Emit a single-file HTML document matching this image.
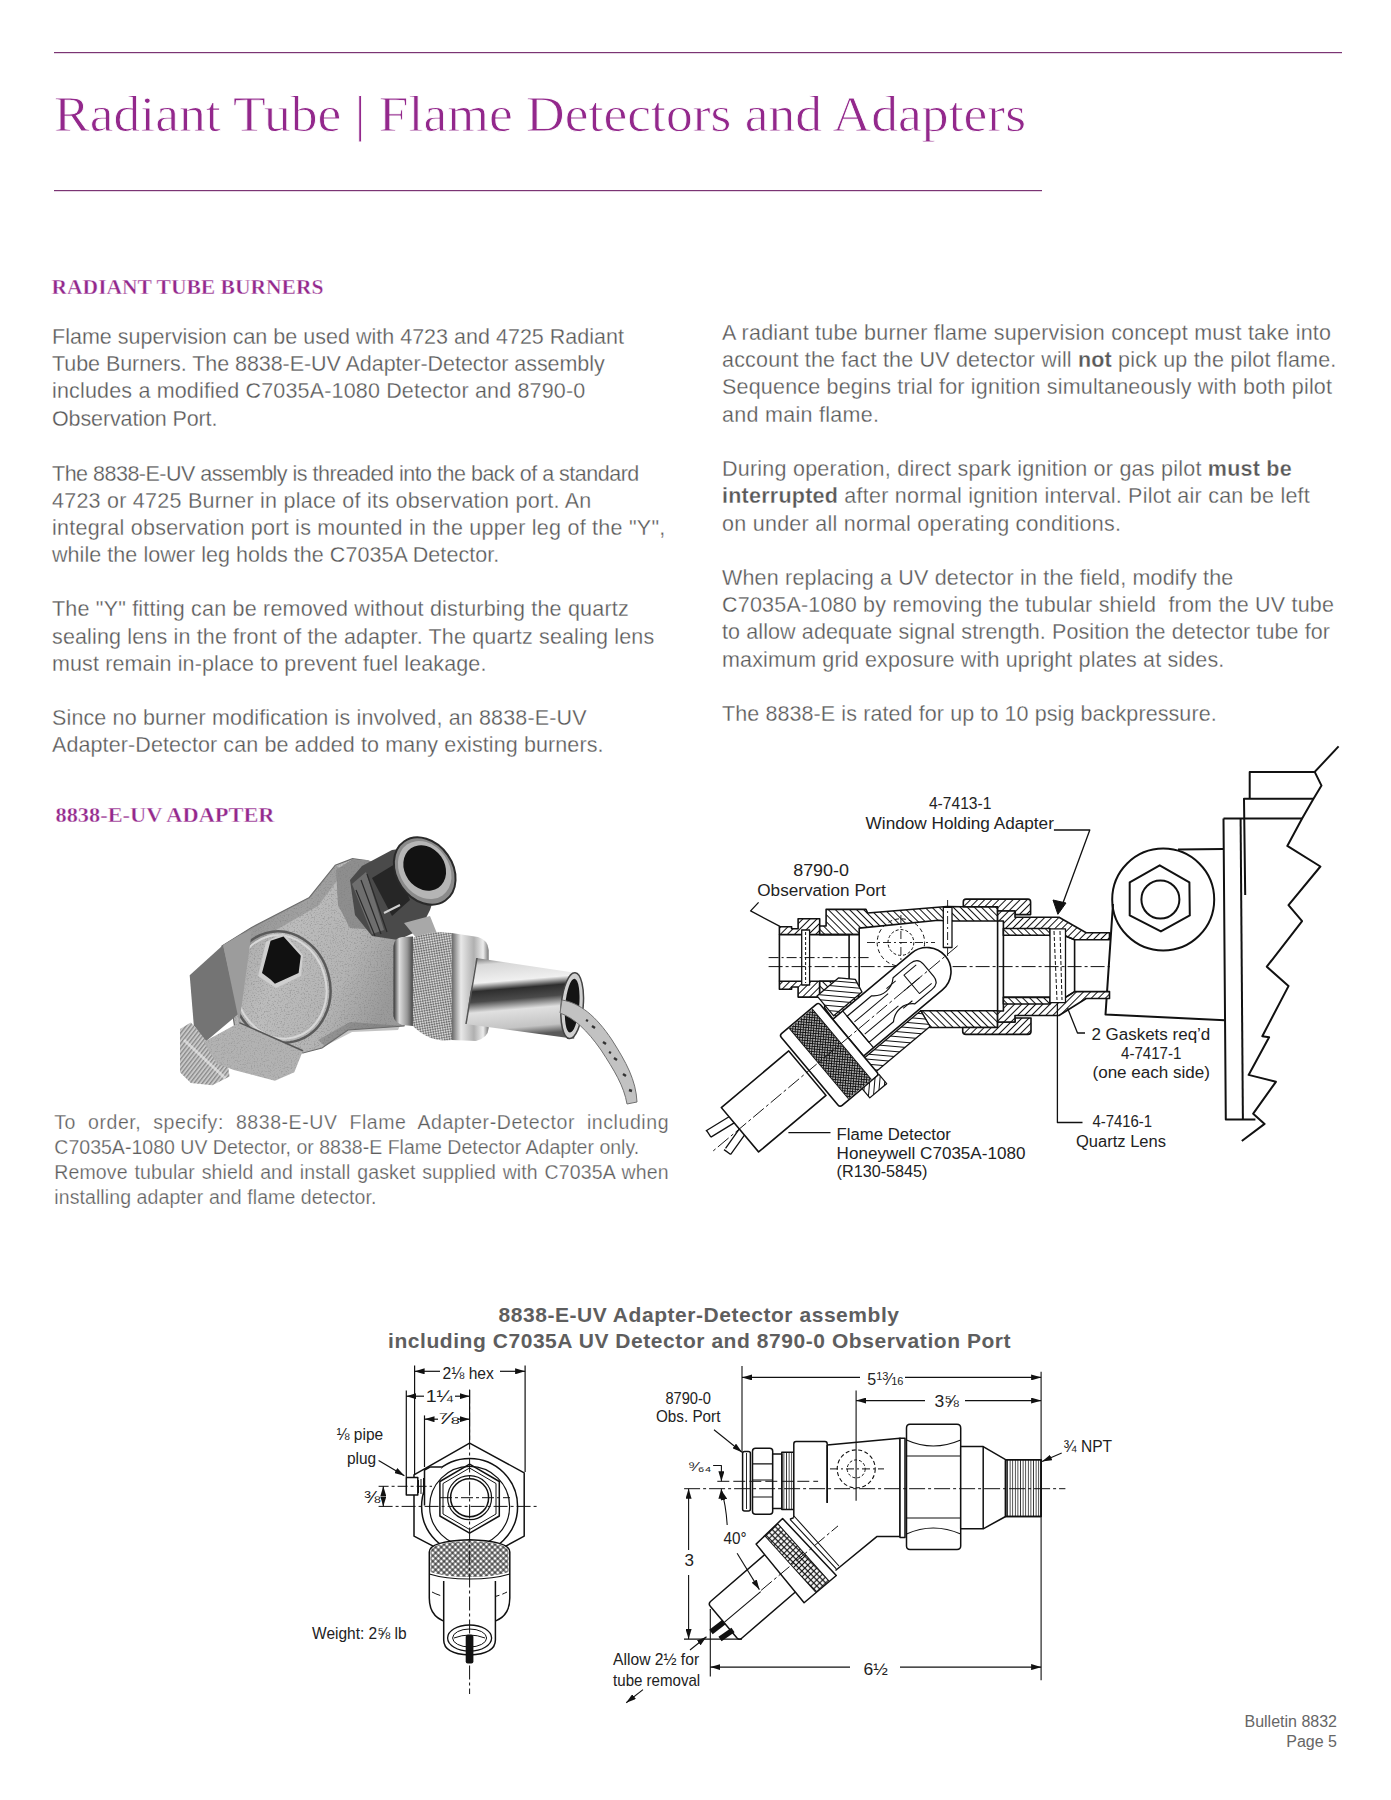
<!DOCTYPE html>
<html><head><meta charset="utf-8"><title>Radiant Tube | Flame Detectors and Adapters</title>
<style>html,body{margin:0;padding:0;background:#fff;} svg{display:block;}</style></head>
<body><svg width="1391" height="1800" viewBox="0 0 1391 1800">
<rect width="1391" height="1800" fill="#fff"/>
<rect x="54" y="52" width="1288" height="1.2" fill="#7b3473"/>
<rect x="54" y="190" width="988" height="1.2" fill="#7b3473"/>
<text x="54" y="131" font-family="Liberation Serif, serif" font-size="51" fill="#93288c" stroke="#fff" stroke-width="0.8" textLength="972" lengthAdjust="spacingAndGlyphs">Radiant Tube | Flame Detectors and Adapters</text>
<text x="51.5" y="293.7" font-size="21" textLength="272.0" lengthAdjust="spacingAndGlyphs" font-family="Liberation Serif, serif" font-weight="bold" fill="#93288c" stroke="#fff" stroke-width="0.35">RADIANT TUBE BURNERS</text>
<text x="55.5" y="821.6" font-size="21.5" textLength="219.0" lengthAdjust="spacingAndGlyphs" font-family="Liberation Serif, serif" font-weight="bold" fill="#93288c" stroke="#fff" stroke-width="0.35">8838-E-UV ADAPTER</text>
<text x="52" y="344" font-size="21.5" textLength="572.0" lengthAdjust="spacing" fill="#585858" stroke="#fff" stroke-width="0.28" font-family="Liberation Sans, sans-serif">Flame supervision can be used with 4723 and 4725 Radiant</text>
<text x="52" y="371.2" font-size="21.5" textLength="552.7" lengthAdjust="spacing" fill="#585858" stroke="#fff" stroke-width="0.28" font-family="Liberation Sans, sans-serif">Tube Burners. The 8838-E-UV Adapter-Detector assembly</text>
<text x="52" y="398.4" font-size="21.5" textLength="533.3" lengthAdjust="spacing" fill="#585858" stroke="#fff" stroke-width="0.28" font-family="Liberation Sans, sans-serif">includes a modified C7035A-1080 Detector and 8790-0</text>
<text x="52" y="425.6" font-size="21.5" textLength="165.4" lengthAdjust="spacing" fill="#585858" stroke="#fff" stroke-width="0.28" font-family="Liberation Sans, sans-serif">Observation Port.</text>
<text x="52" y="480.6" font-size="21.5" textLength="587.3" lengthAdjust="spacing" fill="#585858" stroke="#fff" stroke-width="0.28" font-family="Liberation Sans, sans-serif">The 8838-E-UV assembly is threaded into the back of a standard</text>
<text x="52" y="507.8" font-size="21.5" textLength="539.3" lengthAdjust="spacing" fill="#585858" stroke="#fff" stroke-width="0.28" font-family="Liberation Sans, sans-serif">4723 or 4725 Burner in place of its observation port. An</text>
<text x="52" y="535.3" font-size="21.5" textLength="613.3" lengthAdjust="spacing" fill="#585858" stroke="#fff" stroke-width="0.28" font-family="Liberation Sans, sans-serif">integral observation port is mounted in the upper leg of the "Y",</text>
<text x="52" y="562.4" font-size="21.5" textLength="447.3" lengthAdjust="spacing" fill="#585858" stroke="#fff" stroke-width="0.28" font-family="Liberation Sans, sans-serif">while the lower leg holds the C7035A Detector.</text>
<text x="52" y="616.2" font-size="21.5" textLength="576.7" lengthAdjust="spacing" fill="#585858" stroke="#fff" stroke-width="0.28" font-family="Liberation Sans, sans-serif">The "Y" fitting can be removed without disturbing the quartz</text>
<text x="52" y="643.8" font-size="21.5" textLength="602.2" lengthAdjust="spacing" fill="#585858" stroke="#fff" stroke-width="0.28" font-family="Liberation Sans, sans-serif">sealing lens in the front of the adapter. The quartz sealing lens</text>
<text x="52" y="671.3" font-size="21.5" textLength="434.4" lengthAdjust="spacing" fill="#585858" stroke="#fff" stroke-width="0.28" font-family="Liberation Sans, sans-serif">must remain in-place to prevent fuel leakage.</text>
<text x="52" y="724.7" font-size="21.5" textLength="534.5" lengthAdjust="spacing" fill="#585858" stroke="#fff" stroke-width="0.28" font-family="Liberation Sans, sans-serif">Since no burner modification is involved, an 8838-E-UV</text>
<text x="52" y="752.2" font-size="21.5" textLength="551.5" lengthAdjust="spacing" fill="#585858" stroke="#fff" stroke-width="0.28" font-family="Liberation Sans, sans-serif">Adapter-Detector can be added to many existing burners.</text>
<text x="722" y="339.9" font-size="21.5" textLength="609.0" lengthAdjust="spacing" fill="#585858" stroke="#fff" stroke-width="0.28" font-family="Liberation Sans, sans-serif" xml:space="preserve">A radiant tube burner flame supervision concept must take into</text>
<text x="722" y="367.2" font-size="21.5" textLength="614.3" lengthAdjust="spacing" fill="#585858" stroke="#fff" stroke-width="0.28" font-family="Liberation Sans, sans-serif" xml:space="preserve">account the fact the UV detector will <tspan font-weight="bold">not</tspan> pick up the pilot flame.</text>
<text x="722" y="394.3" font-size="21.5" textLength="610.0" lengthAdjust="spacing" fill="#585858" stroke="#fff" stroke-width="0.28" font-family="Liberation Sans, sans-serif" xml:space="preserve">Sequence begins trial for ignition simultaneously with both pilot</text>
<text x="722" y="421.5" font-size="21.5" textLength="157.0" lengthAdjust="spacing" fill="#585858" stroke="#fff" stroke-width="0.28" font-family="Liberation Sans, sans-serif" xml:space="preserve">and main flame.</text>
<text x="722" y="476.1" font-size="21.5" textLength="569.7" lengthAdjust="spacing" fill="#585858" stroke="#fff" stroke-width="0.28" font-family="Liberation Sans, sans-serif" xml:space="preserve">During operation, direct spark ignition or gas pilot <tspan font-weight="bold">must be</tspan></text>
<text x="722" y="502.9" font-size="21.5" textLength="587.8" lengthAdjust="spacing" fill="#585858" stroke="#fff" stroke-width="0.28" font-family="Liberation Sans, sans-serif" xml:space="preserve"><tspan font-weight="bold">interrupted</tspan> after normal ignition interval. Pilot air can be left</text>
<text x="722" y="530.5" font-size="21.5" textLength="399.0" lengthAdjust="spacing" fill="#585858" stroke="#fff" stroke-width="0.28" font-family="Liberation Sans, sans-serif" xml:space="preserve">on under all normal operating conditions.</text>
<text x="722" y="585.3" font-size="21.5" textLength="511.3" lengthAdjust="spacing" fill="#585858" stroke="#fff" stroke-width="0.28" font-family="Liberation Sans, sans-serif" xml:space="preserve">When replacing a UV detector in the field, modify the</text>
<text x="722" y="611.9" font-size="21.5" textLength="612.0" lengthAdjust="spacing" fill="#585858" stroke="#fff" stroke-width="0.28" font-family="Liberation Sans, sans-serif" xml:space="preserve">C7035A-1080 by removing the tubular shield  from the UV tube</text>
<text x="722" y="639.2" font-size="21.5" textLength="608.0" lengthAdjust="spacing" fill="#585858" stroke="#fff" stroke-width="0.28" font-family="Liberation Sans, sans-serif" xml:space="preserve">to allow adequate signal strength. Position the detector tube for</text>
<text x="722" y="666.8" font-size="21.5" textLength="502.3" lengthAdjust="spacing" fill="#585858" stroke="#fff" stroke-width="0.28" font-family="Liberation Sans, sans-serif" xml:space="preserve">maximum grid exposure with upright plates at sides.</text>
<text x="722" y="720.7" font-size="21.5" textLength="494.7" lengthAdjust="spacing" fill="#585858" stroke="#fff" stroke-width="0.28" font-family="Liberation Sans, sans-serif" xml:space="preserve">The 8838-E is rated for up to 10 psig backpressure.</text>
<text x="54.3" y="1128.7" font-size="19.5" textLength="614.2" lengthAdjust="spacing" fill="#5e5e5e" stroke="#fff" stroke-width="0.25" font-family="Liberation Sans, sans-serif" word-spacing="6.0">To order, specify: 8838-E-UV Flame Adapter-Detector including</text>
<text x="54.3" y="1153.9" font-size="19.5" textLength="584.9" lengthAdjust="spacing" fill="#5e5e5e" stroke="#fff" stroke-width="0.25" font-family="Liberation Sans, sans-serif">C7035A-1080 UV Detector, or 8838-E Flame Detector Adapter only.</text>
<text x="54.3" y="1178.6" font-size="19.5" textLength="614.2" lengthAdjust="spacing" fill="#5e5e5e" stroke="#fff" stroke-width="0.25" font-family="Liberation Sans, sans-serif" word-spacing="1.2">Remove tubular shield and install gasket supplied with C7035A when</text>
<text x="54.3" y="1203.9" font-size="19.5" textLength="322.1" lengthAdjust="spacing" fill="#5e5e5e" stroke="#fff" stroke-width="0.25" font-family="Liberation Sans, sans-serif">installing adapter and flame detector.</text>
<text x="498.5" y="1321.5" font-size="21" textLength="400.5" lengthAdjust="spacing" fill="#5e5e5e" font-family="Liberation Sans, sans-serif" font-weight="bold">8838-E-UV Adapter-Detector assembly</text>
<text x="388" y="1347.5" font-size="21" textLength="622.6" lengthAdjust="spacing" fill="#5e5e5e" font-family="Liberation Sans, sans-serif" font-weight="bold">including C7035A UV Detector and 8790-0 Observation Port</text>
<text x="1337" y="1727" font-size="16" fill="#666" font-family="Liberation Sans, sans-serif" text-anchor="end">Bulletin 8832</text>
<text x="1337" y="1747" font-size="16" fill="#666" font-family="Liberation Sans, sans-serif" text-anchor="end">Page 5</text>
<g id="photo">
<defs>
<linearGradient id="gTube" x1="0" y1="0" x2="0.12" y2="1">
<stop offset="0" stop-color="#6a6a6a"/><stop offset="0.1" stop-color="#d8d8d8"/><stop offset="0.32" stop-color="#f0f0f0"/><stop offset="0.42" stop-color="#2e2e2e"/><stop offset="0.55" stop-color="#4a4a4a"/><stop offset="0.68" stop-color="#e0e0e0"/><stop offset="0.9" stop-color="#c4c4c4"/><stop offset="1" stop-color="#5a5a5a"/></linearGradient>
<linearGradient id="gCap" x1="0" y1="0" x2="1" y2="0">
<stop offset="0" stop-color="#666"/><stop offset="0.25" stop-color="#e8e8e8"/><stop offset="0.6" stop-color="#b0b0b0"/><stop offset="0.85" stop-color="#ececec"/><stop offset="1" stop-color="#777"/></linearGradient>
<linearGradient id="gRing" x1="0" y1="0" x2="1" y2="0">
<stop offset="0" stop-color="#333"/><stop offset="0.3" stop-color="#ddd"/><stop offset="0.7" stop-color="#999"/><stop offset="1" stop-color="#444"/></linearGradient>
<pattern id="pKnurl" width="3.5" height="3.5" patternUnits="userSpaceOnUse" patternTransform="rotate(35)">
<rect width="3.5" height="3.5" fill="#d0d0d0"/><path d="M0 0L3.5 3.5M3.5 0L0 3.5" stroke="#707070" stroke-width="0.8"/></pattern>
<pattern id="pThread" width="3.2" height="3.2" patternUnits="userSpaceOnUse" patternTransform="rotate(-52)">
<rect width="3.2" height="3.2" fill="#c8c8c8"/><rect width="3.2" height="1.3" fill="#8a8a8a"/></pattern>
<filter id="fNoise" x="0" y="0" width="100%" height="100%">
<feTurbulence type="fractalNoise" baseFrequency="0.7" numOctaves="2" seed="5"/>
<feColorMatrix type="matrix" values="0 0 0 0 0.2  0 0 0 0 0.2  0 0 0 0 0.2  3 0 0 0 -1.5"/>
<feComposite in2="SourceGraphic" operator="in"/>
</filter>
<linearGradient id="gBody" x1="0" y1="0" x2="1" y2="0.4">
<stop offset="0" stop-color="#9c9c9c"/><stop offset="0.45" stop-color="#bcbcbc"/><stop offset="0.75" stop-color="#b4b4b4"/><stop offset="1" stop-color="#9a9a9a"/></linearGradient>
</defs>
<!-- thread nipple -->
<path d="M180 1029 L190.8 1022.6 L227.4 1061.4 L229.6 1076.5 L212.3 1085.2 L190.8 1083 L180 1072.2 Z" fill="url(#pThread)"/>
<path d="M184 1040 L225 1078" stroke="#eee" stroke-width="3" opacity="0.6"/>
<!-- cast body -->
<path d="M222 946 L251.2 927.7 L309.4 897.5 L335.3 865.2 L352.5 858.7 L367.6 860.9 L380 880 L396 936 L412 1000 L404 1026 L348 1030 L322 1048 L303 1053 L280 1050 L236 1035 Z" fill="url(#gBody)" stroke="#6a6a6a" stroke-width="1.2"/>
<path d="M222 946 L251.2 927.7 L309.4 897.5 L335.3 865.2 L352.5 858.7 L367.6 860.9 L380 880 L396 936 L412 1000 L404 1026 L348 1030 L322 1048 L303 1053 L280 1050 L236 1035 Z" fill="#000" filter="url(#fNoise)" opacity="0.5"/>
<path d="M222 946 L251.2 927.7 L309.4 897.5 L335.3 865.2 L345 870 L318 906 L262 938 L236 958 Z" fill="#7e7e7e" opacity="0.45"/>
<path d="M318 1040 L350 1022 L404 1026 L412 1000 L398 1030 L352 1032 L325 1046 Z" fill="#6a6a6a" opacity="0.4"/>
<!-- boss shading -->
<path d="M336 870 L352 859.5 L368 860 L380 866 L392 900 L378 930 L350 928 L338 905 Z" fill="#8e8e8e"/>
<path d="M336 870 L352 859.5 L368 860 L380 866 L392 900 L378 930 L350 928 L338 905 Z" fill="#000" filter="url(#fNoise)" opacity="0.5"/>
<!-- flange ring -->
<ellipse cx="281" cy="987" rx="49" ry="56" fill="none" stroke="#5a5a5a" stroke-width="2.5" transform="rotate(-15 281 987)"/>
<ellipse cx="281" cy="987" rx="45" ry="52" fill="none" stroke="#d8d8d8" stroke-width="2" transform="rotate(-15 281 987)"/>
<!-- hex nut left face -->
<path d="M189.7 975.2 L223.1 945 L238.6 1013.8 L206.3 1040.9 L193.8 1025.3 Z" fill="#747474"/>
<path d="M223.1 945 L240 935 L252 930 L239.3 1022.6 Z" fill="#9c9c9c"/>
<!-- hex nut bottom face -->
<path d="M203.7 1042 L239.3 1022.6 L302.9 1050.7 L294.3 1072.2 L274.9 1080.8 L233.9 1070.1 L216.7 1063.6 Z" fill="#b2b2b2"/>
<path d="M203.7 1042 L239.3 1022.6 L302.9 1050.7 L294.3 1072.2 L274.9 1080.8 L233.9 1070.1 L216.7 1063.6 Z" fill="#000" filter="url(#fNoise)" opacity="0.4"/>
<path d="M239.3 1022.6 L302.9 1050.7" stroke="#555" stroke-width="1.5"/>
<!-- dark hole -->
<path d="M258 976 L266 942 L283 933 L303 955 L301 976 L276 988 Z" fill="#cfcfcf"/>
<path d="M262 973 L270.6 940.7 L283.5 936.4 L300.8 955.8 L298.6 973 L274.9 983.8 L270.6 979.5 Z" fill="#111"/>
<!-- port hex body / threads -->
<path d="M350 880 L362 866 L392 850 L425 845 L440 880 L430 910 L420 930 L398 940 L372 936 L355 915 Z" fill="#4a4a4a"/>
<path d="M352 884 L366 872 L384 930 L372 934 Z" fill="#6e6e6e"/>
<path d="M356 890 L375 936 M361 880 L381 934 M367 874 L387 932" stroke="#2a2a2a" stroke-width="1.2"/>
<path d="M372 878 L395 864 L410 900 L392 916 Z" fill="#262626"/>
<path d="M384 913 L400 905" stroke="#d0d0d0" stroke-width="2"/>
<path d="M404 923 L430 916 L438 936 L418 940 Z" fill="#a8a8a8"/>
<!-- port ring -->
<ellipse cx="424.7" cy="871" rx="28" ry="36" fill="#8a8a8a" stroke="#2a2a2a" stroke-width="2" transform="rotate(-35 424.7 871)"/>
<ellipse cx="424.7" cy="870" rx="24.5" ry="31" fill="#b5b5b5" transform="rotate(-35 424.7 870)"/>
<ellipse cx="424.7" cy="868" rx="20" ry="24" fill="#121212" transform="rotate(-35 424.7 868)"/>
<!-- detector nut ring -->
<path d="M393.5 946 Q394 938 402 937 L413 936.4 L413 1026 L402 1025 Q394 1022 393.5 1016 Z" fill="url(#gRing)"/>
<path d="M412.9 938 Q430 930 451.7 933 L452 1040 Q430 1043 412.9 1026 Z" fill="url(#pKnurl)"/>
<path d="M451.7 933 L478 937 Q488 940 488.7 950 L488.7 1028 Q488 1038 476 1041 L451.7 1040 Z" fill="url(#gCap)"/>
<!-- tube -->
<path d="M476 958 L580 973.6 L574.1 1038.7 L465.4 1024.1 Z" fill="url(#gTube)"/>
<path d="M477 958 L466 1024" stroke="#555" stroke-width="1.5"/>
<ellipse cx="572.2" cy="1005.7" rx="11" ry="33" fill="#d0d0d0" stroke="#444" stroke-width="1.5" transform="rotate(5 572.2 1005.7)"/>
<ellipse cx="572.2" cy="1005.7" rx="7" ry="27" fill="#141414" transform="rotate(5 572.2 1005.7)"/>
<!-- cable -->
<path d="M562 1000 C580 1003 596 1016 612 1040 C626 1062 636 1080 637 1102 L627 1104 C624 1086 614 1070 601 1050 C587 1030 574 1018 560 1013 Z" fill="#c2c2c2" stroke="#707070" stroke-width="1"/>
<path d="M592 1026 l3 2 M603 1042 l3 2 M614 1058 l3 2 M623 1074 l3 2 M629 1090 l3 1 M586 1020 l2 1 M609 1052 l2 1" stroke="#333" stroke-width="2.4"/>
</g>
<g id="diag1" fill="none" stroke="#111" stroke-width="1.6" stroke-linejoin="round">
<defs>
<pattern id="hA" width="5" height="5" patternUnits="userSpaceOnUse" patternTransform="rotate(45)"><line x1="2.5" y1="-1" x2="2.5" y2="6" stroke="#111" stroke-width="1"/></pattern>
<pattern id="hB" width="5" height="5" patternUnits="userSpaceOnUse" patternTransform="rotate(-45)"><line x1="2.5" y1="-1" x2="2.5" y2="6" stroke="#111" stroke-width="1"/></pattern>
<pattern id="hK" width="2.6" height="2.6" patternUnits="userSpaceOnUse" patternTransform="rotate(45)"><path d="M1.3 -1V3.6M-1 1.3H3.6" stroke="#111" stroke-width="1.1"/></pattern>
</defs>
<!-- ===== burner wall / bracket ===== --><g stroke-width="2">
<path d="M1314.7 771.9 L1338.6 746.4"/>
<path d="M1249.7 798.1 V771.9 H1314.7 L1321.5 785.6 L1313.5 798.8 L1302.1 818.6 L1287.3 845.9 L1320.4 866.5 L1288.5 905.2 L1302.1 921.1 L1266.8 966.7 L1288.5 986.1 L1262.3 1036.2 L1269.1 1037.3 L1248.6 1074.9 L1275.9 1081.8 L1253.2 1113.7 L1264.6 1123.9 L1241.8 1141"/>
<path d="M1245.2 894.9 L1244 798.8 H1313.5"/>
<path d="M1223.5 818.6 H1302.1"/>
<path d="M1223.5 818.6 L1225.8 1119.4 H1255.4"/>
<path d="M1240.6 818.6 L1242.9 1119.4"/>
<circle cx="1163.2" cy="899.5" r="51"/>
<path d="M1159.7 865.3 L1189.4 882.4 L1189.8 915.4 L1160.9 931.4 L1129.7 915.4 L1129.7 882.4 Z"/>
<circle cx="1160.4" cy="899.5" r="19"/>
<path d="M1178 849.4 L1223.5 848.9"/>
<path d="M1113 904 L1105.5 1014.5 L1224.7 1020.2"/></g>
<!-- ===== main body hatched walls ===== -->
<!-- port top wall + port nut -->
<path d="M779.4 934.6 V926.7 H791.6 V928.8 H798.1 V918.8 H819.7 V934.6 Z" fill="#fff" stroke="none"/><path d="M779.4 934.6 V926.7 H791.6 V928.8 H798.1 V918.8 H819.7 V934.6 Z" fill="url(#hA)"/>
<path d="M779.4 981.3 V989.2 H791.6 V987 H798.1 V997.1 H819.7 V981.3 Z" fill="#fff" stroke="none"/><path d="M779.4 981.3 V989.2 H791.6 V987 H798.1 V997.1 H819.7 V981.3 Z" fill="url(#hA)"/>
<!-- body top wall -->
<path d="M819.7 934.6 V926 H826.1 V909.4 H866 L867.6 913 L946.9 906.5 L963.3 906.8 L997.6 906.8 V921 H946.9 L938.3 920.2 L859.2 928.1 V934.6 Z" fill="#fff" stroke="none"/><path d="M819.7 934.6 V926 H826.1 V909.4 H866 L867.6 913 L946.9 906.5 L963.3 906.8 L997.6 906.8 V921 H946.9 L938.3 920.2 L859.2 928.1 V934.6 Z" fill="url(#hB)"/>
<path d="M849.1 934.6 H859.2 V989.2 H849.1 Z" fill="#fff"/>
<!-- body bottom wall near port, join to leg -->
<path d="M819.7 981.3 H849.1 V989.2 H859.2 L857.8 1007.9 L835 1022 L824.7 1008 V997.1 H819.7 Z" fill="#fff" stroke="none"/><path d="M819.7 981.3 H849.1 V989.2 H859.2 L857.8 1007.9 L835 1022 L824.7 1008 V997.1 H819.7 Z" fill="url(#hB)"/>
<!-- body bottom wall right of leg -->
<path d="M920.7 1010.7 H997.6 V1027.5 H930 Z" fill="#fff" stroke="none"/><path d="M920.7 1010.7 H997.6 V1027.5 H930 Z" fill="url(#hB)"/>
<!-- union nut -->
<path d="M963.3 906.8 V902 Q963.3 899.1 966 899.1 H1028 Q1030.6 899.1 1030.6 902 V914.6 H1015 V911 H997.6 V906.8 Z" fill="#fff" stroke="none"/><path d="M963.3 906.8 V902 Q963.3 899.1 966 899.1 H1028 Q1030.6 899.1 1030.6 902 V914.6 H1015 V911 H997.6 V906.8 Z" fill="url(#hA)"/>
<path d="M962.7 1027.5 V1031.5 Q962.7 1034.4 966 1034.4 H1028 Q1031 1034.4 1031 1031.5 V1018 H1015 V1022 H997.6 V1027.5 Z" fill="#fff" stroke="none"/><path d="M962.7 1027.5 V1031.5 Q962.7 1034.4 966 1034.4 H1028 Q1031 1034.4 1031 1031.5 V1018 H1015 V1022 H997.6 V1027.5 Z" fill="url(#hA)"/>
<!-- adapter walls -->
<path d="M997.6 921 V911 H1015 V917.2 H1059 L1086.2 932.7 H1109.5 V939.8 H1074.6 L1065.5 936 H1050 L1050 935.3 H1003.4 V921 Z" fill="#fff" stroke="none"/><path d="M997.6 921 V911 H1015 V917.2 H1059 L1086.2 932.7 H1109.5 V939.8 H1074.6 L1065.5 936 H1050 L1050 935.3 H1003.4 V921 Z" fill="url(#hA)"/>
<path d="M1003.4 928.5 H1050 V935.3 H1003.4 Z" fill="#fff" stroke="none"/><path d="M1003.4 928.5 H1050 V935.3 H1003.4 Z" fill="url(#hB)"/>
<path d="M997.6 1011 V1022 H1015 V1015.5 H1059 L1086.2 998.5 H1109.5 V991.6 H1074.6 L1065.5 997.4 H1003.4 V1011 Z" fill="#fff" stroke="none"/><path d="M997.6 1011 V1022 H1015 V1015.5 H1059 L1086.2 998.5 H1109.5 V991.6 H1074.6 L1065.5 997.4 H1003.4 V1011 Z" fill="url(#hA)"/>
<path d="M1003.4 997.4 H1050 V1004 H1003.4 Z" fill="#fff" stroke="none"/><path d="M1003.4 997.4 H1050 V1004 H1003.4 Z" fill="url(#hB)"/>
<!-- inner lines -->
<path d="M779.4 934.6 V981.3 M819.7 934.6 H849.1 M819.7 981.3 H849.1"/>
<path d="M997.6 921 V1011 M1003.4 935.3 V997.4"/>
<rect x="801.7" y="930" width="7.9" height="55" fill="#fff" stroke-width="1.3"/>
<path d="M805.6 932 V983" stroke-dasharray="3 2" stroke-width="1"/>
<rect x="1050" y="928.8" width="15.5" height="73.8" fill="#fff" stroke-width="1.3"/>
<path d="M1054 931 L1057 1000 M1060 931 L1062 1000" stroke-dasharray="4 2" stroke-width="1"/>
<path d="M1074.6 939.8 V991.6 M1065.5 936 L1074.6 939.8 M1065.5 997.4 L1074.6 991.6"/>
<rect x="943.3" y="907.3" width="8.7" height="40.2" fill="#fff" stroke-width="1.3"/>
<!-- center lines -->
<path d="M768.6 957.6 H869.3" stroke-width="1" stroke-dasharray="10 3 2 3"/>
<path d="M768.6 966.6 H1110" stroke-width="1" stroke-dasharray="14 3 3 3"/>
<!-- dashed circles -->
<circle cx="900.9" cy="942.5" r="23.7" stroke-width="1" stroke-dasharray="4 3"/>
<circle cx="900.9" cy="942.5" r="12.9" stroke-width="1" stroke-dasharray="3 2"/>
<path d="M867 942.5 H935 M900.9 915 V985" stroke-width="0.9" stroke-dasharray="8 3 2 3"/>
<path d="M947.6 900 V975" stroke-width="0.9" stroke-dasharray="8 3 2 3"/>
<!-- ===== detector leg (local frame) ===== -->
<g transform="translate(927 971.5) rotate(140)">
<!-- walls -->
<path d="M63 26 L100 26 L100 52 L72 52 L60 40 Z" fill="#fff" stroke-width="1.3" stroke="none"/><path d="M63 26 L100 26 L100 52 L72 52 L60 40 Z" fill="url(#hB)" stroke-width="1.3"/>
<path d="M30 -26 L106 -26 L106 -44 L33 -44 Z" fill="#fff" stroke-width="1.3" stroke="none"/><path d="M30 -26 L106 -26 L106 -44 L33 -44 Z" fill="url(#hB)" stroke-width="1.3"/>
<!-- tube with rounded end -->
<path d="M0 -24 A24 24 0 0 0 0 24 L103 24 V-24 Z" fill="#fff"/>
<path d="M8 -17 Q-2 -17 -2 -8 V8 Q-2 17 8 17 H30 Q36 11 44 11 Q52 11 58 17 H90 V-17 H58 Q52 -11 44 -11 Q36 -11 30 -17 Z" stroke-width="1.2"/>
<path d="M4 -12 H20 V12 H4 M10 0 H30 M44 -8 H88 M44 8 H88 M30 -13 H42 M30 13 H42" stroke-width="1"/>
<path d="M90 -24 V24" stroke-width="1.2"/>
<!-- nut -->
<rect x="103" y="-48" width="51" height="94" rx="3" fill="#fff"/>
<rect x="112" y="-47" width="30" height="92" fill="#fff" stroke="none"/><rect x="112" y="-47" width="30" height="92" fill="url(#hK)" stroke="none"/><path d="M112 -47 V45 M142 -47 V45" stroke-width="1"/>
<path d="M103 -60 H125 V-48 H103 Z" fill="#fff" stroke-width="1.2" stroke="none"/><path d="M103 -60 H125 V-48 H103 Z" fill="url(#hA)" stroke-width="1.2"/>
<!-- outer cylinder -->
<rect x="157" y="-30" width="88" height="58" fill="#fff"/>
<!-- cables -->
<path d="M245 -8 L268 -14 M245 0 L268 -6 M268 -14 L270 -6 M245 8 L272 12 M245 16 L272 20 M272 12 L271 20" stroke-width="1.3"/>
<path d="M-40 0 H279" stroke-width="0.9" stroke-dasharray="14 3 3 3"/>
</g>
<!-- ===== leaders ===== -->
<path d="M1053.9 830 H1089.8 L1060 911" stroke-width="1.3"/>
<path d="M1057.9 914.3 L1053 900 L1066 903 Z" fill="#111" stroke-width="1"/>
<path d="M758.6 902.4 L750.6 910.9 L779.9 926.3" stroke-width="1.3"/>
<path d="M1067.6 1008.3 L1077.5 1033 H1085" stroke-width="1.3"/>
<path d="M1057.4 1002 V1122.5 H1082.5" stroke-width="1.3"/>
<path d="M788.4 1132.7 H830.5" stroke-width="1.3"/>
</g>
<g font-family="Liberation Sans, sans-serif" fill="#222" font-size="16">
<text x="928.9" y="809.3" textLength="62.5" lengthAdjust="spacingAndGlyphs">4-7413-1</text>
<text x="865.6" y="828.7" textLength="188.3" lengthAdjust="spacingAndGlyphs">Window Holding Adapter</text>
<text x="793.2" y="876.3" textLength="55.8" lengthAdjust="spacingAndGlyphs">8790-0</text>
<text x="757.3" y="895.7" textLength="128.5" lengthAdjust="spacingAndGlyphs">Observation Port</text>
<text x="1091.4" y="1039.6" textLength="118.9" lengthAdjust="spacingAndGlyphs">2 Gaskets req’d</text>
<text x="1121" y="1059" textLength="60.4" lengthAdjust="spacingAndGlyphs">4-7417-1</text>
<text x="1092.5" y="1078.3" textLength="117.4" lengthAdjust="spacingAndGlyphs">(one each side)</text>
<text x="1092.4" y="1127.3" textLength="59.6" lengthAdjust="spacingAndGlyphs">4-7416-1</text>
<text x="1076" y="1146.7" textLength="90" lengthAdjust="spacingAndGlyphs">Quartz Lens</text>
<text x="836.6" y="1139.6" textLength="114.3" lengthAdjust="spacingAndGlyphs">Flame Detector</text>
<text x="836.6" y="1158.6" textLength="188.8" lengthAdjust="spacingAndGlyphs">Honeywell C7035A-1080</text>
<text x="836.6" y="1176.7" textLength="90.9" lengthAdjust="spacingAndGlyphs">(R130-5845)</text>
</g>
<g id="diag2" fill="none" stroke="#111" stroke-width="1.5" stroke-linejoin="round">
<defs>
<pattern id="kn2" width="4" height="4" patternUnits="userSpaceOnUse" patternTransform="rotate(45)"><path d="M2 -1V5M-1 2H5" stroke="#111" stroke-width="1"/></pattern>
<marker id="arw" viewBox="0 0 10 6" refX="10" refY="3" markerWidth="10" markerHeight="6" markerUnits="userSpaceOnUse" orient="auto"><path d="M0 0 L10 3 L0 6 Z" fill="#111" stroke="none"/></marker>
</defs>
<!-- outer hex -->
<path d="M436 1547.6 L414 1536.1 V1474.8 L469.6 1443.1 L524.2 1472.8 V1536.1 L503.1 1547.6"/>
<circle cx="469.6" cy="1506.4" r="48"/>
<circle cx="469.6" cy="1506.4" r="40" stroke-width="1.2"/>
<!-- inner hex double -->
<path d="M469.6 1464.2 L499.3 1481.5 V1516 L469.6 1533.2 L439.9 1516 V1481.5 Z"/>
<path d="M469.6 1468 L496 1483.5 V1514 L469.6 1529.5 L443 1514 V1483.5 Z" stroke-width="1"/>
<circle cx="469.6" cy="1497.7" r="22" stroke-width="1.2"/>
<circle cx="469.6" cy="1497.7" r="19"/>
<!-- plug block -->
<path d="M424.5 1505.4 V1470 L430 1467 H441.8" fill="#fff"/>
<rect x="406.3" y="1477.6" width="11.5" height="17.3" fill="#fff"/>
<path d="M418.5 1480 V1493 M421 1479 V1494 M423.5 1478 V1495" stroke-width="1"/>
<!-- knurled nut -->
<path d="M436 1547.6 V1552 M503.1 1547.6 V1552" stroke-width="1.2"/>
<path d="M429.3 1552 Q429.3 1541 469.6 1539.7 Q509.8 1541 509.8 1552 V1598 Q509.8 1620 487 1623 H452 Q429.3 1620 429.3 1598 Z" fill="#fff"/>
<path d="M430.5 1552 Q431 1542 469.6 1541 Q508 1542 508.5 1552 V1572 Q495 1577 469.6 1577 Q444 1577 430.5 1572 Z" fill="url(#kn2)" stroke="none"/>
<path d="M429.3 1574 Q445 1579 469.6 1579 Q494 1579 509.8 1574" stroke-width="1.2"/>
<path d="M432 1592 Q445 1599 469.6 1600 Q494 1599 507 1592" stroke-width="1" stroke-dasharray="9 3"/>
<!-- tube -->
<path d="M443.7 1581 V1640 Q443.7 1654 469.6 1655 Q495.4 1654 495.4 1640 V1581" fill="#fff"/>
<ellipse cx="469.6" cy="1638" rx="22" ry="13" stroke-width="1.3"/>
<ellipse cx="469.6" cy="1638" rx="17" ry="9" stroke-width="1"/>
<path d="M454 1638 Q469.6 1632 485 1638" stroke-width="1"/>
<rect x="465.7" y="1634.7" width="7.7" height="28.8" rx="2" fill="#111" stroke="none"/>
<!-- centerlines -->
<path d="M469.6 1389.5 V1694" stroke-width="1" stroke-dasharray="14 3 3 3"/>
<path d="M378.6 1506.4 H539.5" stroke-width="1" stroke-dasharray="14 3 3 3"/>
<path d="M378.6 1486.3 H432" stroke-width="1" stroke-dasharray="10 3 3 3"/>
<path d="M440 1497.7 H510" stroke-width="1" stroke-dasharray="12 3 3 3"/>
<!-- dimensions -->
<path d="M414.6 1365.5 V1474 M525.1 1365.5 V1472" stroke-width="1.2"/>
<path d="M440 1371.3 H414.6" marker-end="url(#arw)" stroke-width="1.2"/>
<path d="M500 1371.3 H525.1" marker-end="url(#arw)" stroke-width="1.2"/>
<path d="M406.3 1390.4 V1477 M469.6 1390 V1440" stroke-width="1.2"/>
<path d="M424 1396.2 H406.3" marker-end="url(#arw)" stroke-width="1.2"/>
<path d="M455 1396.2 H469.6" marker-end="url(#arw)" stroke-width="1.2"/>
<path d="M424.5 1415.4 V1467" stroke-width="1.2"/>
<path d="M438 1419.2 H424.5" marker-end="url(#arw)" stroke-width="1.2"/>
<path d="M458 1419.2 H469.6" marker-end="url(#arw)" stroke-width="1.2"/>
<path d="M378.6 1460.4 L404.4 1475.7" marker-end="url(#arw)" stroke-width="1.2"/>
<path d="M383.3 1494 V1486.3" marker-end="url(#arw)" stroke-width="1.2"/>
<path d="M383.3 1498 V1506.4" marker-end="url(#arw)" stroke-width="1.2"/>
</g>
<g font-family="Liberation Sans, sans-serif" fill="#222" font-size="17">
<text x="442.6" y="1378.5" textLength="51.2" lengthAdjust="spacingAndGlyphs">2⅛ hex</text>
<text x="425.7" y="1402.4" textLength="27.3" lengthAdjust="spacingAndGlyphs">1¼</text>
<text x="437.4" y="1424" textLength="21.6" lengthAdjust="spacingAndGlyphs">⅞</text>
<text x="336.6" y="1440.3" textLength="46.6" lengthAdjust="spacingAndGlyphs">⅛ pipe</text>
<text x="347" y="1463.5" textLength="29.2" lengthAdjust="spacingAndGlyphs">plug</text>
<text x="364" y="1502.6" textLength="16.3" lengthAdjust="spacingAndGlyphs">⅜</text>
<text x="312.1" y="1639.4" textLength="94.4" lengthAdjust="spacingAndGlyphs">Weight: 2⅝ lb</text>
</g>
<g id="diag3" fill="none" stroke="#111" stroke-width="1.5" stroke-linejoin="round">
<defs>
<pattern id="kn3" width="4.2" height="4.2" patternUnits="userSpaceOnUse" patternTransform="rotate(45)"><path d="M2.1 -1V5.2M-1 2.1H5.2" stroke="#111" stroke-width="1.1"/></pattern>
<pattern id="thr" width="2.6" height="10" patternUnits="userSpaceOnUse"><path d="M1.3 -1V11" stroke="#111" stroke-width="0.8"/></pattern>
</defs>
<!-- obs port -->
<rect x="742.6" y="1451.5" width="7.8" height="59.5" rx="2" fill="#fff"/>
<path d="M746.5 1453 V1509" stroke-width="0.9"/>
<rect x="752.5" y="1448.2" width="20.2" height="66.1" rx="3" fill="#fff"/>
<path d="M752.5 1463.9 H772.7 M752.5 1497 H772.7 M752.5 1480 H772.7" stroke-width="1.1"/>
<rect x="772.7" y="1454" width="9.1" height="54.5" fill="#fff"/>
<rect x="781.8" y="1452.3" width="12" height="57.1" fill="url(#thr)"/>
<!-- boss -->
<path d="M793.8 1517.6 V1444 Q793.8 1441.6 796 1441.6 H825 Q827.2 1441.6 827.2 1444 V1502.8" fill="#fff"/>
<!-- body taper -->
<path d="M827.2 1444.9 L900 1438.3 V1536.6 H876.8 L835.5 1570.5 M827.2 1444.9 V1503"/>
<path d="M793.8 1517.6 L790 1519.3"/>
<path d="M790 1519.3 L836.3 1568.9 M794 1516 L839 1566" stroke-width="1.1"/>
<rect x="900" y="1438.3" width="5" height="99.2" fill="#fff"/>
<!-- big hex nut -->
<path d="M906.5 1428 Q906.5 1424.2 910 1424.2 H957 Q960.7 1424.2 960.7 1428 V1546 Q960.7 1549.4 957 1549.4 H910 Q906.5 1549.4 906.5 1546 Z" fill="#fff"/>
<path d="M906.5 1440 Q933 1452 960.7 1440 M906.5 1456 H960.7 M906.5 1518 H960.7 M906.5 1534 Q933 1522 960.7 1534" stroke-width="1.1"/>
<!-- adapter -->
<rect x="960.7" y="1446.6" width="22.5" height="82.2" fill="#fff"/>
<path d="M983.2 1446.6 L1005.6 1459.7 V1516.5 L983.2 1528.8"/>
<rect x="1005.6" y="1459.7" width="35.5" height="56.8" fill="url(#thr)"/>
<rect x="1005.6" y="1459.7" width="35.5" height="56.8"/>
<!-- center circle -->
<circle cx="856.2" cy="1468.9" r="19" stroke-width="1.1" stroke-dasharray="4 2.5"/>
<circle cx="856.2" cy="1468.9" r="9" stroke-width="1" stroke-dasharray="3 2"/>
<path d="M830 1468.9 H884" stroke-width="1" stroke-dasharray="8 3 2 3"/>
<!-- tube -->
<path d="M770 1550 L710.5 1601.5 Q708 1604 710.5 1606.5 L737 1638 Q739.5 1640.5 742 1638 L800 1588 Z" fill="#fff"/>
<path d="M724.5 1622.2 L760.7 1591.7" stroke-width="1.1"/>
<path d="M711 1632 L724 1622" stroke="#111" stroke-width="5.5" stroke-linecap="butt"/>
<path d="M720 1639 L733 1630" stroke="#111" stroke-width="5.5" stroke-linecap="butt"/>
<!-- detector leg: nut -->
<path d="M756.1 1544.1 L782.6 1518.5 L836.3 1575.5 L804.1 1602.8 Z" fill="#fff"/>
<path d="M765 1536 L777.5 1523.5 L829 1581 L816 1592.5 Z" fill="url(#kn3)" stroke="none"/>
<path d="M765 1536 L816 1592.5 M777.5 1523.5 L829 1581" stroke-width="1.1"/>

<path d="M761.1 1590.4 L838 1525.9" stroke-width="1" stroke-dasharray="14 3 3 3"/>
<!-- dimensions -->
<path d="M742 1366 V1452 M1041.1 1371.8 V1680.2 M856.1 1390.5 V1500.8" stroke-width="1.1"/>
<path d="M860 1377.4 H742" marker-end="url(#arw)" stroke-width="1.1"/>
<path d="M905 1377.4 H1041.1" marker-end="url(#arw)" stroke-width="1.1"/>
<path d="M925 1400.6 H856.1" marker-end="url(#arw)" stroke-width="1.1"/>
<path d="M965 1400.6 H1041.1" marker-end="url(#arw)" stroke-width="1.1"/>
<path d="M714 1429.8 L742 1452.2" marker-end="url(#arw)" stroke-width="1.1"/>
<path d="M684.1 1488.7 H1065.4" stroke-width="1" stroke-dasharray="16 3 3 3"/>
<path d="M717.3 1481.3 H818.1" stroke-width="1" stroke-dasharray="12 4"/>
<path d="M713.1 1465.5 H721.4 V1481.3" marker-end="url(#arw)" stroke-width="1.1"/>
<path d="M721.4 1500 V1488.7" marker-end="url(#arw)" stroke-width="1.1"/>
<path d="M688.6 1550 V1488.7" marker-end="url(#arw)" stroke-width="1.1"/>
<path d="M688.6 1575 V1639.1" marker-end="url(#arw)" stroke-width="1.1"/>
<path d="M684 1639.1 H742" stroke-width="1.1"/>
<path d="M710.3 1609 V1676.5" stroke-width="1.1"/>
<path d="M850 1667.1 H710.3" marker-end="url(#arw)" stroke-width="1.1"/>
<path d="M900 1667.1 H1041.1" marker-end="url(#arw)" stroke-width="1.1"/>
<path d="M727.2 1525 Q726 1505 721.4 1490.3" marker-end="url(#arw)" stroke-width="1.1"/>
<path d="M737.1 1553.2 L759.4 1589.6" marker-end="url(#arw)" stroke-width="1.1"/>
<path d="M1061.7 1453 L1042 1461.5" marker-end="url(#arw)" stroke-width="1.1"/>
<path d="M690 1650 L706.5 1636.7" marker-end="url(#arw)" stroke-width="1.1"/>
<path d="M643 1689.6 L626.2 1702.7" marker-end="url(#arw)" stroke-width="1.1"/>
</g>
<g font-family="Liberation Sans, sans-serif" fill="#222" font-size="17">
<text x="867.3" y="1385" font-size="16">5<tspan font-size="11" dy="-5">13</tspan><tspan dy="5">⁄</tspan><tspan font-size="11">16</tspan></text>
<text x="934.6" y="1407" textLength="24.3" lengthAdjust="spacingAndGlyphs">3⅝</text>
<text x="665.4" y="1403.6" textLength="45.6" lengthAdjust="spacingAndGlyphs">8790-0</text>
<text x="656" y="1422.3" textLength="64.4" lengthAdjust="spacingAndGlyphs">Obs. Port</text>
<text x="687.9" y="1470.9" font-size="12" textLength="23.5" lengthAdjust="spacingAndGlyphs">⁹⁄₆₄</text>
<text x="684.5" y="1566">3</text>
<text x="723.4" y="1543.8" textLength="23.1" lengthAdjust="spacingAndGlyphs">40°</text>
<text x="863.6" y="1674.6" textLength="24.3" lengthAdjust="spacingAndGlyphs">6½</text>
<text x="613.1" y="1665.3" textLength="86" lengthAdjust="spacingAndGlyphs">Allow 2½ for</text>
<text x="613.1" y="1685.8" textLength="87.1" lengthAdjust="spacingAndGlyphs">tube removal</text>
<text x="1063.6" y="1452.2" textLength="48.5" lengthAdjust="spacingAndGlyphs">¾ NPT</text>
</g>

</svg></body></html>
